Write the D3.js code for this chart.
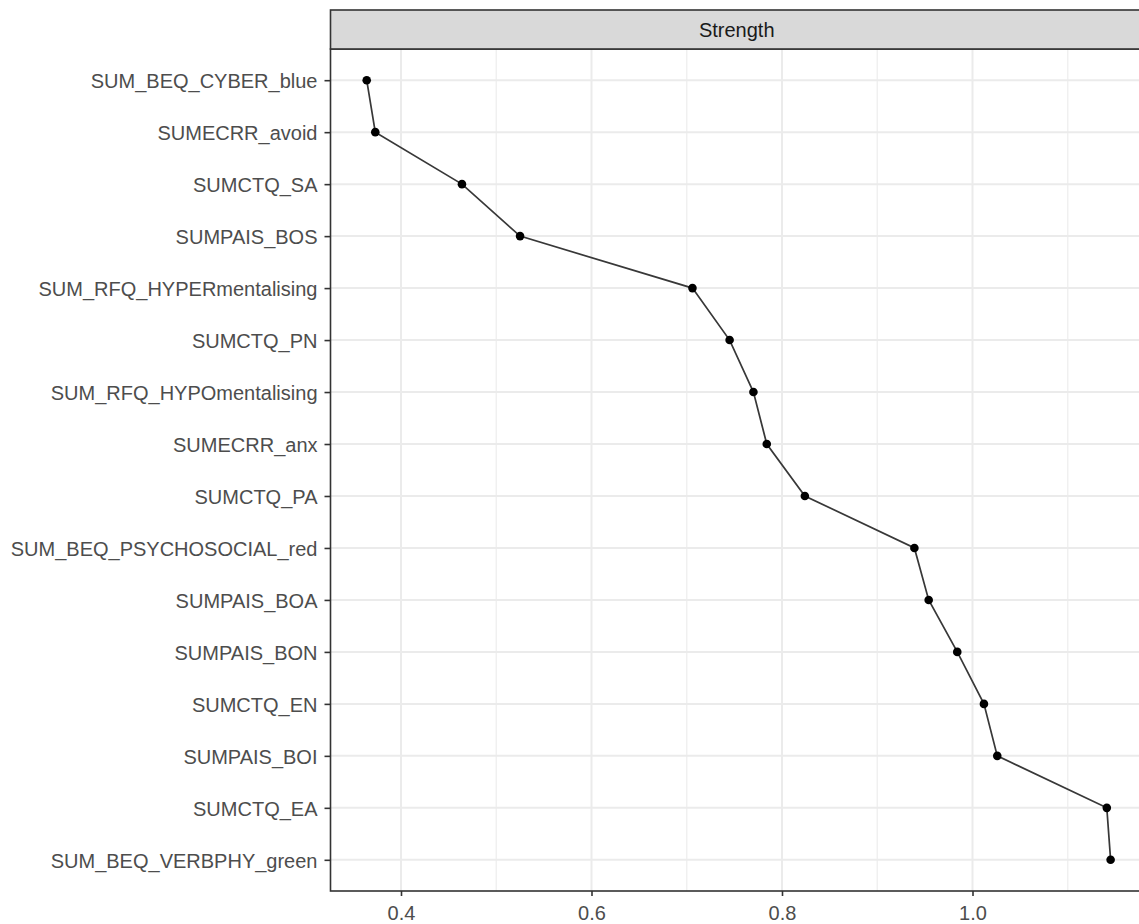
<!DOCTYPE html>
<html>
<head>
<meta charset="utf-8">
<script src="https://cdn.jsdelivr.net/npm/d3@7"></script>
<style>
    body { margin: 0; background: #fff; }
    svg { display: block; }
</style>
</head>
<body>
<div id="chart"></div>
<script>
// centrality values
var nodes = [
    "SUM_BEQ_CYBER_blue", "SUMECRR_avoid", "SUMCTQ_SA", "SUMPAIS_BOS",
    "SUM_RFQ_HYPERmentalising", "SUMCTQ_PN", "SUM_RFQ_HYPOmentalising", "SUMECRR_anx",
    "SUMCTQ_PA", "SUM_BEQ_PSYCHOSOCIAL_red", "SUMPAIS_BOA", "SUMPAIS_BON",
    "SUMCTQ_EN", "SUMPAIS_BOI", "SUMCTQ_EA", "SUM_BEQ_VERBPHY_green"
];
var strength = [
    0.364, 0.373, 0.464, 0.525,
    0.706, 0.745, 0.770, 0.784,
    0.824, 0.939, 0.954, 0.984,
    1.012, 1.026, 1.141, 1.145
];
var xTicks = [0.4, 0.6, 0.8, 1.0];
var xMinor = [0.5, 0.7, 0.9, 1.1];
var panelTitle = "Strength";

var svgW = 1139;
var svgH = 924;

var margin = { top: 49, right: -4, bottom: 33, left: 330.5 };
var chartW = svgW - margin.left - margin.right;
var chartH = svgH - margin.top - margin.bottom;
var fontSz = "20px";

var svg = d3.select("#chart")
    .append("svg")
    .attr("width", svgW)
    .attr("height", svgH)
    .style("font-family", "Liberation Sans, Arial, sans-serif");

var chartG = svg.append("g")
    .attr("transform", `translate(${margin.left}, ${margin.top})`);

var xScale = d3.scaleLinear()
    .domain([0.4 + (0 - 70.5) / 952.5, 0.4 + (chartW - 70.5) / 952.5])
    .range([0, chartW]);

var yScale = d3.scalePoint()
    .domain(nodes)
    .range([0, chartH])
    .padding(0.6);

// grid
chartG.append("g")
    .selectAll("line")
    .data(xMinor)
    .enter()
    .append("line")
    .attr("x1", function(d) { return xScale(d) })
    .attr("x2", function(d) { return xScale(d) })
    .attr("y1", 0)
    .attr("y2", chartH)
    .attr("stroke", "#f0f0f0")
    .attr("stroke-width", 1.4);

chartG.append("g")
    .selectAll("line")
    .data(xTicks)
    .enter()
    .append("line")
    .attr("x1", function(d) { return xScale(d) })
    .attr("x2", function(d) { return xScale(d) })
    .attr("y1", 0)
    .attr("y2", chartH)
    .attr("stroke", "#ebebeb")
    .attr("stroke-width", 2);

chartG.append("g")
    .selectAll("line")
    .data(nodes)
    .enter()
    .append("line")
    .attr("x1", 0)
    .attr("x2", chartW)
    .attr("y1", function(d) { return yScale(d) })
    .attr("y2", function(d) { return yScale(d) })
    .attr("stroke", "#ebebeb")
    .attr("stroke-width", 2);

// line + points
var pts = nodes.map(function(n, i) { return { node: n, value: strength[i] } });

var line = d3.line()
    .x(function(d) { return xScale(d.value) })
    .y(function(d) { return yScale(d.node) });

chartG.append("path")
    .datum(pts)
    .attr("d", line)
    .attr("fill", "none")
    .attr("stroke", "#383838")
    .attr("stroke-width", 1.7);

chartG.append("g")
    .selectAll("circle")
    .data(pts)
    .enter()
    .append("circle")
    .attr("cx", function(d) { return xScale(d.value) })
    .attr("cy", function(d) { return yScale(d.node) })
    .attr("r", 4.3)
    .attr("fill", "#000");

// axes
var bAxis = d3.axisBottom(xScale)
    .tickValues(xTicks)
    .tickFormat(d3.format(".1f"))
    .tickSize(5)
    .tickPadding(10);

var xAxis = chartG.append("g")
    .attr("transform", `translate(0, ${chartH})`)
    .call(bAxis);

var lAxis = d3.axisLeft(yScale)
    .tickSize(6)
    .tickPadding(7);

var yAxis = chartG.append("g")
    .call(lAxis);

[xAxis, yAxis].forEach(function(ax) {
    ax.select(".domain").remove();
    ax.selectAll(".tick line").attr("stroke", "#333").attr("stroke-width", 1.6);
    ax.selectAll(".tick text")
        .attr("fill", "#4d4d4d")
        .style("font-size", fontSz)
        .style("font-family", "Liberation Sans, Arial, sans-serif");
});

yAxis.selectAll(".tick text").attr("dy", "0.36em");
xAxis.selectAll(".tick text").attr("dy", "0.71em");

// panel border
chartG.append("rect")
    .attr("x", 0)
    .attr("y", 0)
    .attr("width", chartW)
    .attr("height", chartH)
    .attr("fill", "none")
    .attr("stroke", "#333")
    .attr("stroke-width", 1.6);

// strip
var stripG = svg.append("g")
    .attr("transform", `translate(${margin.left}, 10)`);

stripG.append("rect")
    .attr("width", chartW)
    .attr("height", margin.top - 10)
    .attr("fill", "#d9d9d9")
    .attr("stroke", "#333")
    .attr("stroke-width", 1.6);

stripG.append("text")
    .attr("x", chartW / 2)
    .attr("y", (margin.top - 10) / 2)
    .attr("dy", "0.36em")
    .attr("text-anchor", "middle")
    .attr("fill", "#1a1a1a")
    .style("font-size", fontSz)
    .text(panelTitle);
</script>
</body>
</html>
